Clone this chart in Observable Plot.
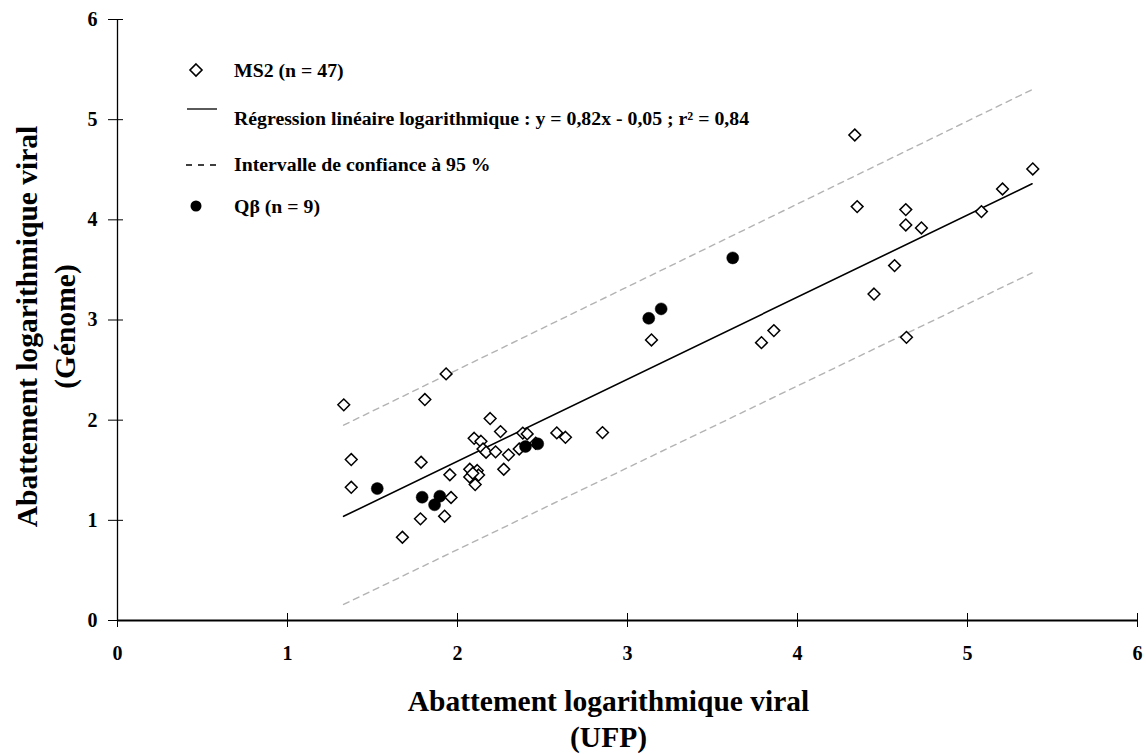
<!DOCTYPE html>
<html>
<head>
<meta charset="utf-8">
<script src="https://cdn.jsdelivr.net/npm/d3@7"></script>
<script src="https://cdn.jsdelivr.net/npm/@observablehq/plot@0.6"></script>
<style>
  html, body { margin: 0; padding: 0; background: #fff; }
  #chart { width: 1146px; height: 754px; }
</style>
</head>
<body>
<div id="chart"></div>
<script>
// ---- Data ----
const ms2X = [1.331, 1.808, 1.375, 1.375, 1.786, 1.962, 1.782, 1.924, 1.676, 1.955,
              2.072, 2.116, 2.072, 2.124, 2.104, 2.098, 2.138, 2.150, 2.168, 2.192,
              2.253, 2.224, 2.300, 2.272, 2.384, 2.410, 2.363, 2.584, 2.635, 2.853,
              3.141, 3.788, 3.861, 4.450, 4.337, 4.351, 4.637, 4.637, 4.729, 4.571,
              4.641, 5.082, 5.206, 5.384, 1.933, 2.090, 2.460];
const ms2Y = [2.153, 2.206, 1.607, 1.330, 1.580, 1.228, 1.015, 1.041, 0.831, 1.455,
              1.510, 1.497, 1.433, 1.452, 1.357, 1.819, 1.789, 1.712, 1.680, 2.016,
              1.886, 1.684, 1.654, 1.510, 1.871, 1.863, 1.712, 1.873, 1.829, 1.876,
              2.801, 2.774, 2.894, 3.259, 4.847, 4.132, 4.102, 3.949, 3.919, 3.543,
              2.827, 4.082, 4.308, 4.508, 2.462, 1.470, 1.770];
const qbX = [1.528, 1.792, 1.896, 1.865, 2.400, 2.472, 3.125, 3.198, 3.619];
const qbY = [1.317, 1.231, 1.241, 1.155, 1.737, 1.764, 3.017, 3.111, 3.620];

const regX = [1.33, 5.38];
const regY = [1.04, 4.36];
const ciX = [1.33, 5.38];
const ciUpperY = [1.95, 5.30];
const ciLowerY = [0.16, 3.47];

const xTicks = [0, 1, 2, 3, 4, 5, 6];
const yTicks = [0, 1, 2, 3, 4, 5, 6];

const xTitle = "Abattement logarithmique viral\n(UFP)";
const yTitle = "Abattement logarithmique viral\n(Génome)";
const legendLabels = [
  "MS2 (n = 47)",
  "Régression linéaire logarithmique : y = 0,82x - 0,05 ; r² = 0,84",
  "Intervalle de confiance à 95 %",
  "Qβ (n = 9)"
];

// ---- Tables built from the arrays ----
const ms2 = ms2X.map((x, i) => ({x, y: ms2Y[i]}));
const qb = qbX.map((x, i) => ({x, y: qbY[i]}));
const reg = regX.map((x, i) => ({x, y: regY[i]}));
const ciUp = ciX.map((x, i) => ({x, y: ciUpperY[i]}));
const ciLo = ciX.map((x, i) => ({x, y: ciLowerY[i]}));

const FONT = "'Liberation Serif', 'Times New Roman', serif";

// Legend drawn in pixel space inside the frame
function legend(index, scales, values, dimensions) {
  const g = d3.create("svg:g")
    .attr("font-family", FONT)
    .attr("font-weight", "bold")
    .attr("font-size", 19.8)
    .attr("text-anchor", "start")
    .attr("fill", "black");
  const sx = 196, tx = 234;
  const rows = [70, 118, 164, 206];
  const s = 6;
  g.append("path")
    .attr("d", `M${sx},${rows[0]-s}L${sx+s},${rows[0]}L${sx},${rows[0]+s}L${sx-s},${rows[0]}Z`)
    .attr("fill", "white").attr("stroke", "black").attr("stroke-width", 1.6);
  g.append("line").attr("x1", 187).attr("x2", 217).attr("y1", rows[1]-9).attr("y2", rows[1]-9)
    .attr("stroke", "black").attr("stroke-width", 1.3);
  g.append("line").attr("x1", 186).attr("x2", 218).attr("y1", rows[2]+1).attr("y2", rows[2]+1)
    .attr("stroke", "black").attr("stroke-width", 1.5).attr("stroke-dasharray", "6,6");
  g.append("circle").attr("cx", sx).attr("cy", rows[3]).attr("r", 5.5).attr("fill", "black");
  legendLabels.forEach((t, i) => {
    g.append("text").attr("x", tx).attr("y", rows[i]).attr("dy", "0.35em").text(t);
  });
  return g.node();
}

const chart = Plot.plot({
  width: 1146,
  height: 754,
  marginLeft: 117,
  marginRight: 9,
  marginTop: 19,
  marginBottom: 134,
  style: {fontFamily: FONT, fontSize: "20px", fontWeight: "bold", color: "black", background: "white"},
  x: {domain: [0, 6]},
  y: {domain: [0, 6]},
  marks: [
    Plot.line(ciUp, {x: "x", y: "y", stroke: "#b3b3b3", strokeWidth: 1.4, strokeDasharray: "6,5"}),
    Plot.line(ciLo, {x: "x", y: "y", stroke: "#b3b3b3", strokeWidth: 1.4, strokeDasharray: "6,5"}),
    Plot.line(reg, {x: "x", y: "y", stroke: "black", strokeWidth: 1.6}),
    Plot.dot(ms2, {x: "x", y: "y", symbol: "diamond2", r: 5.3, fill: "white", stroke: "black", strokeWidth: 1.5}),
    Plot.dot(qb, {x: "x", y: "y", r: 6, fill: "black", stroke: "black", strokeWidth: 0.5}),
    Plot.ruleX([0], {stroke: "black", strokeWidth: 1.3}),
    Plot.ruleY([0], {stroke: "black", strokeWidth: 1.8}),
    Plot.axisY({ticks: yTicks, tickSize: 9, tickPadding: 11, label: null, tickFormat: d => d, stroke: "black", strokeOpacity: 1}),
    Plot.axisY({ticks: yTicks, tickSize: -6, label: null, tickFormat: () => "", stroke: "black", strokeOpacity: 1}),
    Plot.axisX({ticks: xTicks, tickSize: 7, tickPadding: 18, label: null, tickFormat: d => d, stroke: "black", strokeOpacity: 1}),
    Plot.axisX({ticks: xTicks, tickSize: -7, label: null, tickFormat: () => "", stroke: "black", strokeOpacity: 1}),
    Plot.text([xTitle], {frameAnchor: "bottom", lineAnchor: "bottom", textAnchor: "middle", dx: -19, dy: 126, fontSize: 29.5, lineHeight: 1.22, text: d => d, fill: "black"}),
    Plot.text([yTitle], {frameAnchor: "left", lineAnchor: "middle", textAnchor: "middle", dx: -74, dy: 6.5, rotate: -90, fontSize: 29.5, lineHeight: 1.29, text: d => d, fill: "black"}),
    legend
  ]
});
document.getElementById("chart").appendChild(chart);
</script>
</body>
</html>
